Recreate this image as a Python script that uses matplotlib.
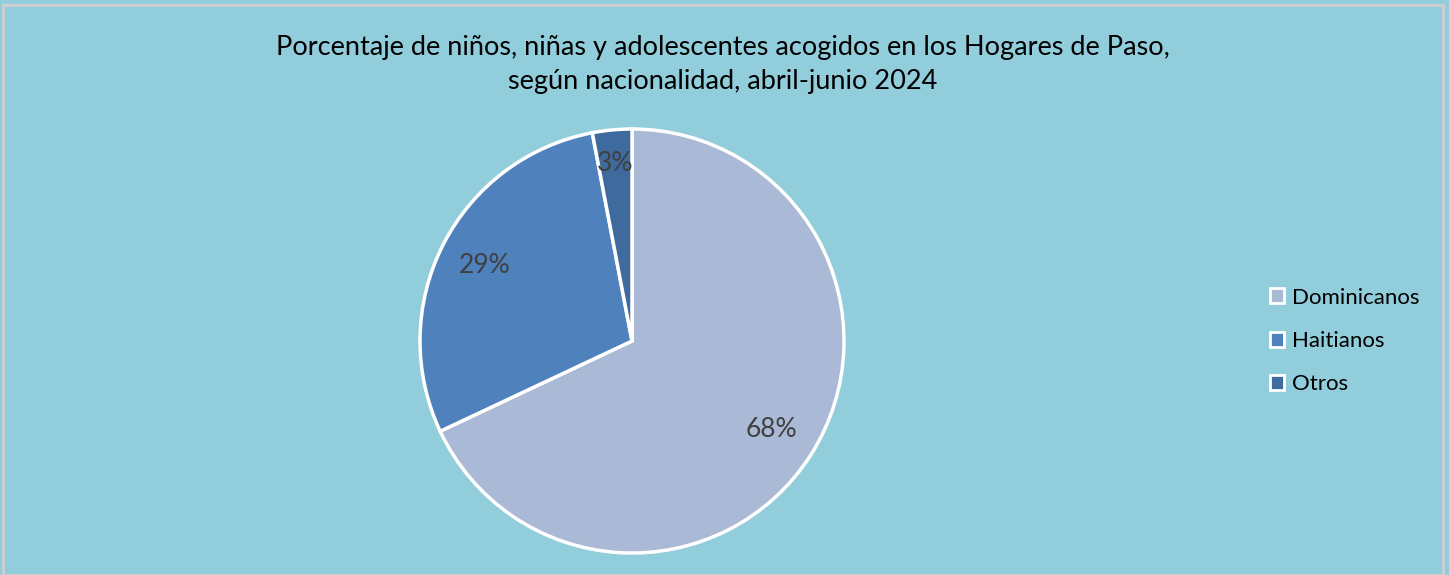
import numpy as np
import matplotlib.pyplot as plt
from matplotlib.patches import Patch

categories = ["Dominicanos", "Haitianos", "Otros"]
values = [68, 29, 3]
pct_labels = ["68%", "29%", "3%"]
colors = ["#AAB9D6", "#4F81BD", "#3E6A9E"]
label_dist = [0.78, 0.78, 0.84]

bg = "#92CDDC"
plt.rcParams['font.family'] = ['Lato', 'DejaVu Sans']

fig = plt.figure(figsize=(14.49, 5.75), dpi=100)
fig.patch.set_facecolor(bg)

ax = fig.add_axes([(632 - 212) / 1449, (575 - 553) / 575, 424 / 1449, 424 / 575])
ax.set_facecolor(bg)
wedges, _ = ax.pie(values, colors=colors, startangle=90, counterclock=False,
                   wedgeprops=dict(edgecolor="white", linewidth=2.5))
ax.set_xlim(-1.0, 1.0)
ax.set_ylim(-1.0, 1.0)
ax.set_aspect("equal")

for w, lab, d in zip(wedges, pct_labels, label_dist):
    ang = np.deg2rad((w.theta1 + w.theta2) / 2)
    ax.text(d * np.cos(ang), d * np.sin(ang), lab, ha="center", va="center",
            fontsize=19, color="#404040")

fig.text(723 / 1449, 1 - 47 / 575, "Porcentaje de niños, niñas y adolescentes acogidos en los Hogares de Paso,",
         ha="center", va="center", fontsize=19.5, color="black")
fig.text(723 / 1449, 1 - 82 / 575, "según nacionalidad, abril-junio 2024",
         ha="center", va="center", fontsize=19.5, color="black")

handles = [Patch(facecolor=c, edgecolor="white", linewidth=2) for c in colors]
leg = fig.legend(handles, categories, loc="center left", bbox_to_anchor=(1250 / 1449, 1 - 341 / 575),
                 frameon=False, fontsize=16, handlelength=0.65, handleheight=0.65,
                 handletextpad=0.35, labelspacing=1.05)

# thin grey frame
fig.add_artist(plt.Rectangle((3 / 1449, 0), 1440 / 1449, 1 - 5 / 575, transform=fig.transFigure,
                             fill=False, edgecolor="#D0D0D0", linewidth=2))

fig.savefig("out.png", dpi=100, facecolor=bg)
